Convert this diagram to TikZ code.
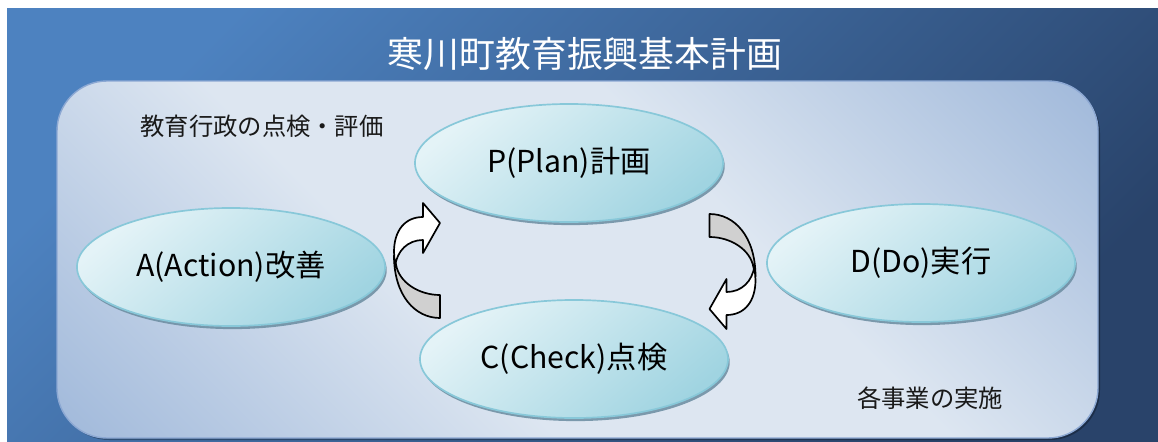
\documentclass[tikz,border=0pt]{standalone}
\usepackage{fontspec}
\setmainfont{Noto Sans CJK JP}
\usetikzlibrary{shapes.geometric,shadows}

\definecolor{bgtop}{HTML}{4D82C0}
\definecolor{bgbot}{HTML}{29436A}
\definecolor{paneldark}{HTML}{9AB4D8}
\definecolor{panellight}{HTML}{DDE6F1}
\definecolor{panelrim}{HTML}{8CA8D3}
\definecolor{ovallight}{HTML}{E4F3F7}
\definecolor{ovaldark}{HTML}{A0D4E1}
\definecolor{ovalrim}{HTML}{88C8D9}
\definecolor{ovalshade}{HTML}{6A8CA0}
\definecolor{turngrey}{HTML}{D0D0D0}

% light band across the panel
\pgfdeclarehorizontalshading{panelband}{100bp}{color(0bp)=(paneldark); color(12bp)=(paneldark);
  color(40bp)=(panellight); color(60bp)=(panellight); color(88bp)=(paneldark); color(100bp)=(paneldark)}

% curved turn arrow, drawn around its own centre (units = px)
\newcommand{\turnarrow}{%
  \filldraw[fill=turngrey] (-23,-5) .. controls (-23,35) and (-2,57.5) .. (23,57.5)
    -- (23,34.5) .. controls (2,34.5) and (-18,22) .. (-21,4) -- cycle;
  \filldraw[fill=white] (6,-43.5) .. controls (-12,-43.5) and (-23,-30) .. (-23,-8.5)
    -- (-22,6) .. controls (-20,-10) and (-9,-20.5) .. (6,-20.5)
    -- (6,-7.5) -- (23,-37.5) -- (6,-57.5) -- cycle;}

\begin{document}
\begin{tikzpicture}[x=0.025cm,y=-0.025cm,
  phase/.style={ellipse,draw=ovalrim,line width=1.2pt,
    top color=ovallight,bottom color=ovaldark,shading angle=40,
    minimum width=7.7cm,minimum height=2.95cm,
    drop shadow={shadow xshift=1.2pt,shadow yshift=-2.2pt,fill=ovalshade,opacity=.85},
    font=\fontsize{21.5}{25}\selectfont},
  caption/.style={font=\fontsize{17.3}{20}\selectfont,text=black!90}]

  \useasboundingbox (0,0) rectangle (1158,441);
  \fill[white] (0,0) rectangle (1158,441);
  \fill[top color=bgtop,bottom color=bgbot,shading angle=45] (7,8) rectangle (1158,441);

  % panel
  \fill[black,opacity=.3,rounded corners=1.25cm] (59,83) rectangle (1100,440);
  \path[draw=panelrim,line width=1pt,rounded corners=1.25cm,
    shading=panelband,shading angle=45] (57,81) rectangle (1098,438);

  \node[text=white,font=\fontsize{25.5}{30}\selectfont] (title) at (585,54) {寒川町教育振興基本計画};

  \node[caption] (evallbl) at (262,126) {教育行政の点検・評価};
  \node[caption] (implbl) at (930,398) {各事業の実施};

  \node[phase] (plan)  at (569,163) {P(Plan)計画};
  \node[phase] (act)   at (231,267) {A(Action)改善};
  \node[phase] (do)    at (921,263) {D(Do)実行};
  \node[phase] (check) at (574,359) {C(Check)点検};

  \begin{scope}[line width=1.2pt,line join=round]
    \begin{scope}[shift={(417,260.5)}]
      \turnarrow
    \end{scope}
    \begin{scope}[shift={(732.5,271.5)},rotate=180]
      \turnarrow
    \end{scope}
  \end{scope}
\end{tikzpicture}
\end{document}
